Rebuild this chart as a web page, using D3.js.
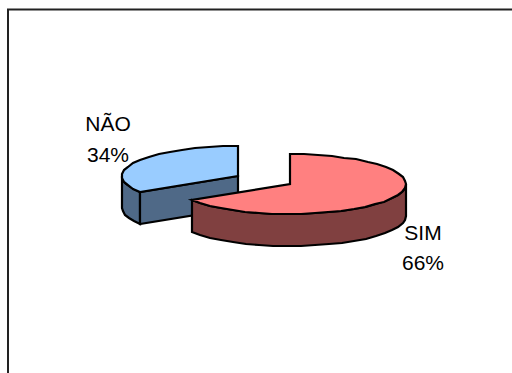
<!DOCTYPE html>
<html>
<head>
<meta charset="utf-8">
<style>
html, body { margin: 0; padding: 0; background: #fff; }
svg { display: block; }
text { font-family: "Liberation Sans", Arial, sans-serif; font-size: 21px; fill: #000; }
</style>
<script src="https://cdn.jsdelivr.net/npm/d3@7"></script>
</head>
<body>
<script>
// Survey answers, in drawing order clockwise from twelve o'clock
const categories = ["SIM", "NÃO"];
const shares = [66, 34];
const topColors = ["#ff8080", "#99ccff"];
const sideColors = ["#804040", "#4f6987"];

const width = 512, height = 373;
const svg = d3.select("body").append("svg").attr("width", width).attr("height", height);

// Chart frame: only the top and left edges fall inside the window
svg.append("path")
  .attr("d", "M8,373V9.5H512")
  .attr("fill", "none").attr("stroke", "#222").attr("stroke-width", 2);

const arcs = d3.pie().value(d => d).sort(null)(shares);

const rx = 116, ry = 30, depth = 32;
// Each slice is pulled apart from the pie along its own axis
const centres = [{ x: 290, y: 184 }, { x: 238, y: 176 }];
const lineGen = d3.line();

const rim = (c, a) => [Math.round(c.x + rx * Math.sin(a)), Math.round(c.y - ry * Math.cos(a))];
const down = p => [p[0], p[1] + depth];

// The rim is a coarse polygon snapped to whole pixels, not a smooth ellipse
function rimPoints(c, a0, a1) {
  const step = (7 * Math.PI) / 180;
  const n = Math.max(1, Math.round((a1 - a0) / step));
  return d3.range(n + 1).map(i => rim(c, a0 + ((a1 - a0) * i) / n));
}

function shape(points, fill) {
  svg.append("path")
    .attr("d", lineGen(points) + "Z")
    .attr("fill", fill)
    .attr("stroke", "#000")
    .attr("stroke-width", 2.2)
    .attr("stroke-linejoin", "miter");
}

function drawSlice(i) {
  const c = centres[i], a = arcs[i];
  const start = a.startAngle, end = a.endAngle;
  // Outer wall: only the part of the rim that faces the viewer
  const wallFrom = Math.max(start, Math.PI / 2);
  const wallTo = Math.min(end, (3 * Math.PI) / 2);
  if (wallTo > wallFrom) {
    const edge = rimPoints(c, wallFrom, wallTo);
    shape(edge.concat(edge.slice().reverse().map(down)), sideColors[i]);
  }
  // Cut face, visible on the slice whose straight edge looks towards the viewer
  if (i === 1) {
    const p = rim(c, start);
    const q = [c.x, c.y];
    shape([p, q, down(q), down(p)], sideColors[i]);
  }
  // Top surface
  shape([[c.x, c.y]].concat(rimPoints(c, start, end)), topColors[i]);
}

// Back slice first so the front slice overlaps it
drawSlice(1);
drawSlice(0);

// Labels with name above percentage
const labels = [{ x: 423, y1: 240, y2: 270 }, { x: 108, y1: 131, y2: 162 }];
labels.forEach((l, i) => {
  svg.append("text").attr("x", l.x).attr("y", l.y1).attr("text-anchor", "middle").text(categories[i]);
  svg.append("text").attr("x", l.x).attr("y", l.y2).attr("text-anchor", "middle").text(shares[i] + "%");
});
</script>
</body>
</html>
